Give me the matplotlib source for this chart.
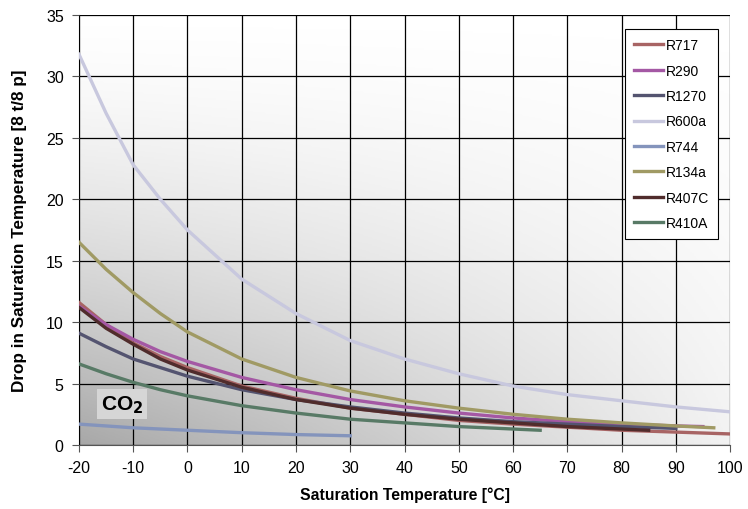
import numpy as np
import matplotlib.pyplot as plt
import matplotlib.colors as mcolors

plt.rcParams.update({"font.family": ["Liberation Sans", "DejaVu Sans"], "font.size": 11,
                     "axes.unicode_minus": False, "mathtext.default": "bf"})

# saturation temperature [°C] and drop in saturation temperature per refrigerant
t_full = [-20, -15, -10, -5, 0, 10, 20, 30, 40, 50, 60, 70, 80, 90, 100]
r717 = [11.6, 9.8, 8.3, 7.2, 6.3, 4.8, 3.8, 3.0, 2.5, 2.0, 1.7, 1.45, 1.2, 1.05, 0.9]
r600a = [31.8, 27.0, 22.8, 20.0, 17.5, 13.5, 10.7, 8.5, 7.0, 5.8, 4.8, 4.1, 3.6, 3.1, 2.7]
t_r290 = [-20, -15, -10, -5, 0, 10, 20, 30, 40, 50, 60, 70, 80, 90, 95]
r290 = [11.3, 9.8, 8.6, 7.6, 6.8, 5.5, 4.5, 3.7, 3.1, 2.6, 2.2, 1.9, 1.7, 1.55, 1.5]
t_r1270 = [-20, -15, -10, -5, 0, 10, 20, 30, 40, 50, 60, 70, 80, 90]
r1270 = [9.1, 8.0, 7.0, 6.3, 5.6, 4.5, 3.7, 3.1, 2.6, 2.2, 1.9, 1.7, 1.5, 1.35]
t_r744 = [-20, -10, 0, 10, 20, 30]
r744 = [1.7, 1.4, 1.2, 1.0, 0.85, 0.75]
t_r134a = [-20, -15, -10, -5, 0, 10, 20, 30, 40, 50, 60, 70, 80, 90, 97]
r134a = [16.5, 14.3, 12.4, 10.7, 9.2, 7.0, 5.5, 4.4, 3.6, 3.0, 2.5, 2.1, 1.8, 1.55, 1.4]
t_r407c = [-20, -15, -10, -5, 0, 10, 20, 30, 40, 50, 60, 70, 80, 85]
r407c = [11.2, 9.5, 8.2, 7.0, 6.1, 4.7, 3.7, 3.0, 2.5, 2.1, 1.8, 1.5, 1.3, 1.2]
t_r410a = [-20, -15, -10, -5, 0, 10, 20, 30, 40, 50, 60, 65]
r410a = [6.6, 5.8, 5.1, 4.5, 4.0, 3.2, 2.6, 2.1, 1.8, 1.5, 1.3, 1.2]

series = [
    ("R717", t_full, r717, "#a86464"),
    ("R290", t_r290, r290, "#a458a4"),
    ("R1270", t_r1270, r1270, "#545470"),
    ("R600a", t_full, r600a, "#c8c8de"),
    ("R744", t_r744, r744, "#8494bc"),
    ("R134a", t_r134a, r134a, "#a09a64"),
    ("R407C", t_r407c, r407c, "#502c2c"),
    ("R410A", t_r410a, r410a, "#587a66"),
]

fig = plt.figure(figsize=(7.48, 5.10), dpi=100)
ax = fig.add_axes([0.1056, 0.1255, 0.8704, 0.8431])

# gray gradient background: dark bottom-left, white top
gx, gy = np.meshgrid(np.linspace(0, 1, 300), np.linspace(0, 1, 300))
dark = np.clip((1 - gy) ** 1.5 * (1 - 0.85 * gx), 0, 1)
cmap = mcolors.LinearSegmentedColormap.from_list("bg", ["#ffffff", "#a8a8a8"])
ax.imshow(dark, cmap=cmap, vmin=0, vmax=1, origin="lower", extent=[-20, 100, 0, 35],
          aspect="auto", zorder=0)

for name, t, v, c in series:
    ax.plot(t, v, color=c, lw=2.4, label=name, zorder=3)

ax.set_xlim(-20, 100); ax.set_ylim(0, 35)
ax.set_xticks(range(-20, 101, 10)); ax.set_yticks(range(0, 36, 5))
ax.grid(color="black", lw=0.9, zorder=1)
ax.set_axisbelow(False)
for s in ["top", "right"]:
    ax.spines[s].set_visible(False)
ax.spines["left"].set_color("#555"); ax.spines["bottom"].set_color("#555")
ax.tick_params(direction="out", length=5, pad=6, labelsize=11.5, color="#555")
ax.set_xlabel("Saturation Temperature [°C]", fontweight="bold", fontsize=11.3, labelpad=8)
ax.set_ylabel("Drop in Saturation Temperature [8 t/8 p]", fontweight="bold", fontsize=12.3,
              labelpad=14)

ax.text(-16, 2.9, "CO$_2$", fontsize=15, fontweight="bold", zorder=4,
        bbox=dict(facecolor="#d6d6d6", edgecolor="none", pad=3))

leg = ax.legend(loc="upper right", bbox_to_anchor=(0.982, 0.967), borderaxespad=0,
                fontsize=10, fancybox=False, framealpha=1, edgecolor="black",
                handlelength=2.1, labelspacing=0.82, borderpad=0.65, handletextpad=0.2)
leg.get_frame().set_linewidth(0.8)
leg.set_zorder(5)

fig.savefig("out.png", dpi=100)
